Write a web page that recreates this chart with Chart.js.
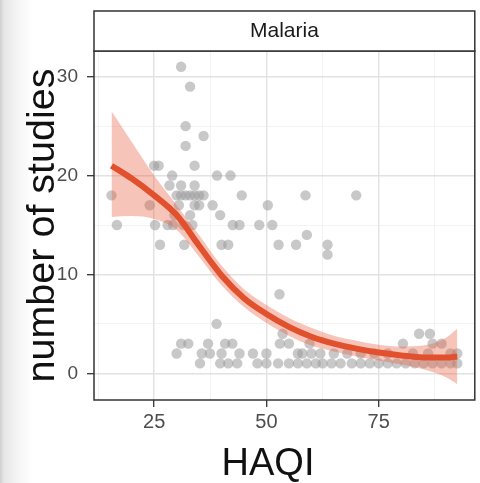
<!DOCTYPE html>
<html lang="en">
<head>
<meta charset="UTF-8">
<title>Malaria: number of studies vs HAQI</title>
<script src="https://cdn.jsdelivr.net/npm/chart.js"></script>
<style>
  html, body { margin: 0; padding: 0; }
  body {
    width: 480px;
    height: 483px;
    overflow: hidden;
    background: linear-gradient(to right, #cfcfcf 0px, #e6e6e6 4px, #f3f3f3 16px, #ffffff 32px);
  }
</style>
</head>
<body>
<canvas id="chart" width="480" height="483"></canvas>
<script>
// scatter: one point per location (HAQI, number of studies)
const haqi = [
  15.5, 16.7, 24, 25, 26, 25.2, 26.3, 28.4, 28, 29, 29.2, 29.5, 30, 30.5, 31, 31, 31, 31.5, 31.7,
  32, 32, 32, 33, 33, 33, 33.5, 34, 34, 34, 34, 35, 35, 36, 36, 38, 39, 39.7, 40, 41.5, 42,
  42.5, 44, 44.5, 48.4, 50.3, 51.3, 52.7, 56.6, 59, 58.7, 63.6, 63.6, 70, 52.9, 38.9,
  30, 31, 32.6, 35.2, 35.6, 37, 37.4, 39.7, 40, 40.8, 41.5, 42.4, 43.5, 44, 47, 48, 50, 50,
  52.6, 53, 53.6, 55, 55, 57, 57, 58, 59, 59.6, 60, 61, 62, 62.5, 64.5, 65, 66.5, 68, 69,
  71, 71, 73, 74, 75, 77, 77, 79, 80.4, 81, 82.6, 83, 84, 85, 86.4, 86, 87, 87, 89, 89,
  91, 91, 92.5, 92.5
];
const studies = [
  18, 15, 17, 21, 21, 15, 13, 19, 15, 20, 15, 16, 18, 17, 31, 19, 18, 15, 13,
  25, 23, 18, 29, 18, 16, 15, 21, 19, 18, 17, 18, 17, 24, 18, 17, 20, 16, 13, 13, 20,
  15, 15, 18, 15, 17, 15, 13, 13, 14, 18, 13, 12, 18, 8, 5,
  2, 3, 3, 1, 2, 3, 2, 1, 2, 3, 1, 3, 1, 2, 2, 1, 1, 2,
  1, 3, 4, 1, 3, 1, 2, 2, 1, 3, 2, 1, 2, 1, 1, 2, 1, 2, 1,
  1, 2, 1, 2, 1, 1, 2, 1, 3, 1, 2, 1, 4, 1, 4, 2, 3, 1, 3, 1,
  2, 1, 1, 2
];

// loess fit with confidence band
const smoothX = [15.5, 20, 25, 30, 35, 40, 45, 50, 55, 60, 65, 70, 75, 80, 85, 90, 92.5];
const fitY    = [21.0, 19.7, 18.0, 16.0, 12.9, 9.9, 7.6, 6.0, 4.7, 3.7, 3.0, 2.5, 2.1, 1.8, 1.6, 1.6, 1.7];
const upperY  = [26.5, 23.4, 20.0, 17.0, 14.0, 10.9, 8.5, 6.9, 5.6, 4.6, 3.8, 3.3, 2.9, 2.7, 2.8, 3.6, 4.5];
const lowerY  = [15.8, 15.9, 15.6, 14.5, 11.8, 8.9, 6.7, 5.1, 3.8, 2.8, 2.2, 1.7, 1.3, 0.9, 0.4, -0.4, -1.1];

const xMajor = [25, 50, 75];
const xMinor = [12.5, 37.5, 62.5, 87.5];
const yMajor = [0, 10, 20, 30];
const yMinor = [5, 15, 25];

const facetLabel = 'Malaria';
const xTitle = 'HAQI';
const yTitle = 'number of studies';

const zip = (xs, ys) => xs.map((x, i) => ({ x: x, y: ys[i] }));

const gridColor = (major) => (ctx) => major.includes(ctx.tick.value) ? '#e2e2e2' : '#eeeeee';
const gridWidth = (major) => (ctx) => major.includes(ctx.tick.value) ? 1.4 : 0.7;
const tickCol = (major) => (ctx) => major.includes(ctx.tick.value) ? '#333333' : 'rgba(0,0,0,0)';

// panel border, facet strip and axis titles
const panelDecor = {
  id: 'panelDecor',
  afterDraw(chart) {
    const { ctx, chartArea: a } = chart;
    ctx.save();
    ctx.strokeStyle = '#333333';
    ctx.lineWidth = 1.5;
    ctx.strokeRect(a.left, a.top, a.right - a.left, a.bottom - a.top);

    // strip
    ctx.fillStyle = '#ffffff';
    ctx.fillRect(a.left, 11, a.right - a.left, a.top - 11);
    ctx.strokeRect(a.left, 11, a.right - a.left, a.top - 11);
    ctx.fillStyle = '#1a1a1a';
    ctx.font = '21px "Liberation Sans", Arial, sans-serif';
    ctx.textAlign = 'center';
    ctx.textBaseline = 'middle';
    ctx.fillText(facetLabel, (a.left + a.right) / 2, 31);

    // axis titles
    ctx.fillStyle = '#111111';
    ctx.font = '38px "Liberation Sans", Arial, sans-serif';
    ctx.textBaseline = 'alphabetic';
    ctx.fillText(xTitle, 268, 475);

    ctx.translate(54, (a.top + a.bottom) / 2);
    ctx.rotate(-Math.PI / 2);
    ctx.font = '39.5px "Liberation Sans", Arial, sans-serif';
    ctx.fillText(yTitle, 0, 0);
    ctx.restore();
  }
};

new Chart(document.getElementById('chart'), {
  data: {
    datasets: [
      {
        type: 'line',
        data: zip(smoothX, fitY),
        borderColor: '#e2512d',
        borderWidth: 6,
        pointRadius: 0,
        cubicInterpolationMode: 'monotone',
        fill: false
      },
      {
        type: 'line',
        data: zip(smoothX, upperY),
        borderWidth: 0,
        borderColor: 'rgba(0,0,0,0)',
        pointRadius: 0,
        cubicInterpolationMode: 'monotone',
        backgroundColor: 'rgba(232, 92, 62, 0.36)',
        fill: '+1'
      },
      {
        type: 'line',
        data: zip(smoothX, lowerY),
        borderWidth: 0,
        borderColor: 'rgba(0,0,0,0)',
        pointRadius: 0,
        cubicInterpolationMode: 'monotone',
        fill: false
      },
      {
        type: 'scatter',
        data: zip(haqi, studies),
        pointRadius: 5.2,
        borderWidth: 0,
        backgroundColor: 'rgba(155, 155, 155, 0.55)'
      }
    ]
  },
  options: {
    responsive: false,
    animation: false,
    layout: { padding: { top: 51, right: 4, left: 0, bottom: 0 } },
    plugins: {
      legend: { display: false },
      tooltip: { enabled: false }
    },
    scales: {
      x: {
        type: 'linear',
        min: 11.6,
        max: 96.4,
        afterBuildTicks: (s) => {
          s.ticks = xMajor.concat(xMinor).sort((p, q) => p - q).map(v => ({ value: v }));
        },
        afterFit: (s) => { s.height = 83; },
        border: { display: false },
        grid: {
          color: gridColor(xMajor),
          lineWidth: gridWidth(xMajor),
          tickColor: tickCol(xMajor),
          tickLength: 7,
          tickWidth: 1.3
        },
        ticks: {
          autoSkip: false,
          maxRotation: 0,
          padding: 3,
          color: '#4d4d4d',
          font: { size: 20, family: '"Liberation Sans", Arial, sans-serif' },
          callback: (v) => xMajor.includes(v) ? String(v) : ''
        }
      },
      y: {
        type: 'linear',
        min: -2.7,
        max: 32.6,
        afterBuildTicks: (s) => {
          s.ticks = yMajor.concat(yMinor).sort((p, q) => p - q).map(v => ({ value: v }));
        },
        afterFit: (s) => { s.width = 94; },
        border: { display: false },
        grid: {
          color: gridColor(yMajor),
          lineWidth: gridWidth(yMajor),
          tickColor: tickCol(yMajor),
          tickLength: 7,
          tickWidth: 1.3
        },
        ticks: {
          autoSkip: false,
          padding: 9,
          color: '#4d4d4d',
          font: { size: 19, family: '"Liberation Sans", Arial, sans-serif' },
          callback: (v) => yMajor.includes(v) ? String(v) : ''
        }
      }
    }
  },
  plugins: [panelDecor]
});
</script>
</body>
</html>
